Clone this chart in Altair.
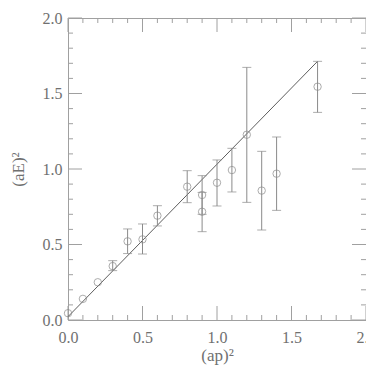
import altair as alt
import pandas as pd

# data
ap2 = [0.0, 0.1, 0.2, 0.3, 0.4, 0.5, 0.6, 0.8, 0.9, 0.9, 1.0, 1.1, 1.2, 1.3, 1.4, 1.675]
aE2 = [0.045, 0.14, 0.25, 0.357, 0.521, 0.534, 0.691, 0.883, 0.828, 0.717, 0.909, 0.993, 1.227, 0.857, 0.969, 1.545]
err_lo = [None, None, None, 0.327, 0.44, 0.437, 0.623, 0.777, 0.70, 0.585, 0.755, 0.848, 0.779, 0.596, 0.726, 1.375]
err_hi = [None, None, None, 0.393, 0.603, 0.636, 0.757, 0.989, 0.956, 0.845, 1.06, 1.137, 1.673, 1.117, 1.212, 1.713]

fit_x = [0.0, 1.675]
fit_y = [0.022, 1.713]

major_ticks = [0.0, 0.5, 1.0, 1.5, 2.0]
minor_ticks = [0.1, 0.2, 0.3, 0.4, 0.6, 0.7, 0.8, 0.9, 1.1, 1.2, 1.3, 1.4, 1.6, 1.7, 1.8, 1.9]

W = 298
H = 302
FONT = "Liberation Serif"
GRAY = "#8a8a8a"
TXT = "#707070"

pts = pd.DataFrame({"x": ap2, "y": aE2, "lo": err_lo, "hi": err_hi})
errs = pts.dropna()
fit = pd.DataFrame({"x": fit_x, "y": fit_y})
maj = pd.DataFrame({"t": major_ticks})
mino = pd.DataFrame({"t": minor_ticks})

xs = alt.Scale(domain=[0, 2], nice=False, zero=False)
ys = alt.Scale(domain=[0, 2], nice=False, zero=False)

xaxis = alt.Axis(values=major_ticks, format=".1f", title="(ap)²", ticks=False,
                 domain=False, grid=False, labelFlush=False, labelPadding=9, titlePadding=2)
yaxis = alt.Axis(values=major_ticks, format=".1f", title="(aE)²", ticks=False,
                 domain=False, grid=False, labelFlush=False, labelPadding=6, titlePadding=15)

X = alt.X("x:Q", scale=xs, axis=xaxis)
Y = alt.Y("y:Q", scale=ys, axis=yaxis)

line = alt.Chart(fit).mark_line(color="#333333", strokeWidth=0.8).encode(x=X, y=Y)

bars = alt.Chart(errs).mark_rule(color=GRAY, strokeWidth=1).encode(
    x=alt.X("x:Q", scale=xs), y=alt.Y("lo:Q", scale=ys), y2="hi:Q")
cap_lo = alt.Chart(errs).mark_tick(color=GRAY, orient="horizontal", size=9, thickness=1).encode(
    x=alt.X("x:Q", scale=xs), y=alt.Y("lo:Q", scale=ys))
cap_hi = alt.Chart(errs).mark_tick(color=GRAY, orient="horizontal", size=9, thickness=1).encode(
    x=alt.X("x:Q", scale=xs), y=alt.Y("hi:Q", scale=ys))

points = alt.Chart(pts).mark_point(shape="circle", filled=False, size=55,
                                   color=GRAY, strokeWidth=1).encode(x=X, y=Y)


def tick_layers(df, length):
    tx = alt.X("t:Q", scale=xs)
    ty = alt.Y("t:Q", scale=ys)
    m = dict(color="#a0a0a0", strokeWidth=1)
    return [
        alt.Chart(df).mark_rule(**m).encode(x=tx, y=alt.value(H), y2=alt.value(H - length)),
        alt.Chart(df).mark_rule(**m).encode(x=tx, y=alt.value(0), y2=alt.value(length)),
        alt.Chart(df).mark_rule(**m).encode(y=ty, x=alt.value(0), x2=alt.value(length)),
        alt.Chart(df).mark_rule(**m).encode(y=ty, x=alt.value(W), x2=alt.value(W - length)),
    ]


layers = tick_layers(maj, 14) + tick_layers(mino, 5) + [line, bars, cap_lo, cap_hi, points]

chart = alt.layer(*layers).properties(
    width=W, height=H,
    autosize=alt.AutoSizeParams(type="none"),
    padding={"left": 60, "top": 10, "right": 0, "bottom": 46},
).configure_view(stroke="#a0a0a0", strokeWidth=1).configure_axis(
    labelFont=FONT, titleFont=FONT, labelFontSize=16, titleFontSize=17,
    labelColor=TXT, titleColor=TXT, titleFontWeight="normal",
)

chart.save("out.html", embed_options={"renderer": "svg", "actions": False})
